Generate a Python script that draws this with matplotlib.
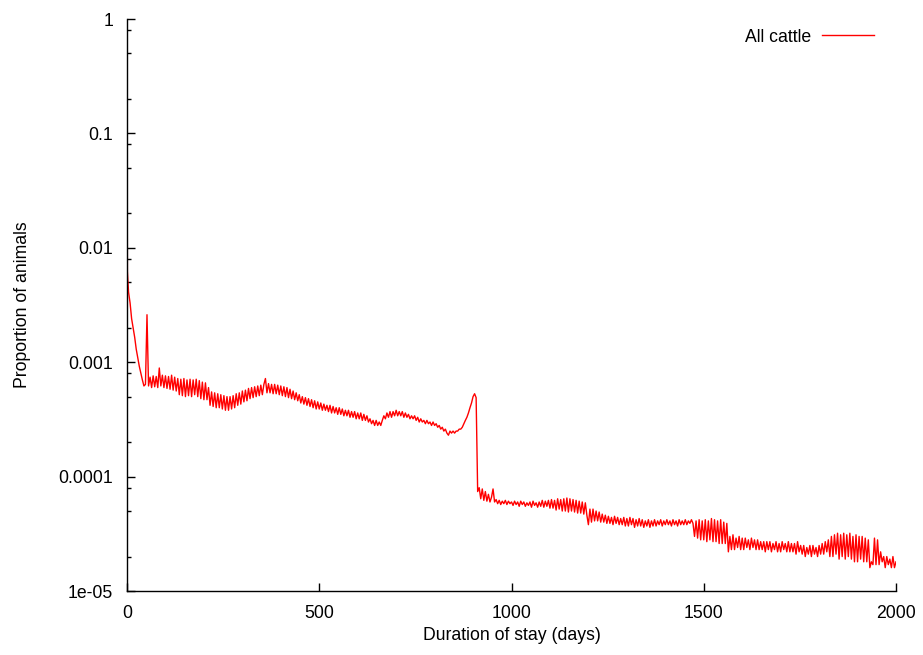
import numpy as np
import matplotlib
matplotlib.use("Agg")
from matplotlib import pyplot as plt
from matplotlib.ticker import FixedLocator, LogLocator, NullFormatter

# Proportion of animals by duration of stay.
# Values are in units of 1e-5 (i.e. per 100 000 animals).
start_days = [0, 1]
start_values = [35000, 620]

# regular 4-day grid from day 4 to day 2000 (one row = 100 days)
grid_days = list(range(4, 2001, 4))
grid_values = [
    410, 330, 240, 200, 165, 130, 110, 92, 80, 70, 62, 64, 260, 62, 74, 60, 76, 61, 75, 60, 89, 62, 77, 60, 76,
    59, 75, 58, 77, 57, 74, 56, 72, 52, 71, 51, 72, 50, 70, 51, 71, 50, 70, 52, 71, 50, 69, 48, 67, 47,
    66, 47, 60, 42, 55, 41, 54, 40, 53, 40, 52, 39, 51, 38, 50, 38, 50, 39, 51, 40, 53, 42, 54, 43, 56,
    45, 57, 46, 59, 48, 60, 49, 61, 50, 62, 51, 63, 52, 64, 72, 54, 65, 54, 64, 53, 64, 53, 63, 52, 62,
    51, 61, 50, 60, 49, 58, 48, 56, 47, 54, 46, 52, 44, 50, 43, 49, 42, 48, 41, 47, 40, 46, 39, 45, 39,
    44, 38, 43, 38, 42, 37, 42, 36, 41, 36, 40, 35, 40, 35, 39, 34, 38, 34, 38, 33, 37, 33, 37, 32, 36,
    32, 36, 31, 35, 31, 34, 30, 32, 29, 31, 28, 31, 28, 30, 28, 31, 34, 32, 36, 33, 37, 33, 37, 34, 38,
    34, 37, 34, 37, 33, 36, 33, 35, 32, 34, 32, 34, 31, 33, 30, 32, 30, 31, 29, 31, 29, 30, 28, 30, 28,
    29, 27, 28, 26, 27, 25, 26, 24, 23, 25, 24, 25, 24, 25, 25, 26, 26, 27, 29, 31, 33, 36, 40, 44, 50,
    53, 49, 7.4, 8.0, 6.4, 7.8, 6.2, 7.4, 6.1, 7.0, 6.0, 6.6, 7.8, 6.0, 6.3, 5.8, 6.2, 5.7, 6.1, 5.8, 6.2, 5.7, 6.1, 5.8, 6.0,
    5.6, 6.1, 5.7, 6.0, 5.5, 6.1, 5.7, 6.0, 5.5, 5.9, 5.6, 6.0, 5.4, 6.1, 5.6, 5.9, 5.4, 6.0, 5.5, 6.2, 5.4, 6.1, 5.5, 6.2, 5.3,
    6.3, 5.3, 6.2, 5.1, 6.4, 5.2, 6.3, 5.0, 6.4, 5.0, 6.5, 4.9, 6.4, 5.0, 6.3, 4.9, 6.2, 4.8, 6.1, 4.8, 6.0, 4.7, 5.9, 4.6, 3.8,
    5.2, 4.0, 5.2, 4.1, 5.0, 4.1, 4.9, 4.0, 4.7, 4.0, 4.6, 3.9, 4.5, 3.9, 4.4, 3.8, 4.5, 3.9, 4.4, 3.8, 4.3, 3.8, 4.4, 3.7, 4.3,
    3.7, 4.4, 3.8, 4.3, 3.6, 4.2, 3.7, 4.3, 3.7, 4.2, 3.6, 4.1, 3.7, 4.2, 3.6, 4.1, 3.7, 4.2, 3.7, 4.1, 3.8, 4.2, 3.7, 4.1, 3.8,
    4.2, 3.8, 4.1, 3.7, 4.2, 3.8, 4.1, 3.7, 4.2, 3.8, 4.1, 3.8, 4.2, 3.8, 4.1, 3.9, 4.2, 3.9, 3.0, 4.1, 2.9, 4.2, 2.8, 4.1, 2.8,
    4.2, 2.7, 4.1, 2.8, 4.3, 2.7, 4.2, 2.7, 4.1, 2.6, 4.2, 2.6, 4.0, 2.6, 3.9, 2.2, 3.0, 2.3, 3.1, 2.3, 2.9, 2.4, 3.0, 2.3, 2.9,
    2.3, 2.9, 2.4, 2.8, 2.3, 2.9, 2.4, 2.8, 2.3, 2.8, 2.3, 2.7, 2.3, 2.7, 2.2, 2.7, 2.3, 2.7, 2.2, 2.6, 2.3, 2.7, 2.2, 2.6, 2.2,
    2.7, 2.3, 2.6, 2.2, 2.7, 2.2, 2.6, 2.2, 2.6, 2.1, 2.7, 2.2, 2.5, 2.1, 2.5, 2.0, 2.4, 2.1, 2.5, 2.0, 2.5, 2.1, 2.4, 2.0, 2.5,
    2.1, 2.6, 2.1, 2.7, 2.2, 2.8, 2.0, 3.0, 2.0, 3.1, 2.1, 3.2, 1.9, 3.1, 2.0, 3.2, 1.9, 3.1, 2.0, 3.2, 1.9, 3.0, 1.8, 3.1, 1.8,
    3.0, 1.9, 3.0, 1.8, 2.9, 1.8, 2.8, 1.6, 1.8, 1.7, 2.9, 1.7, 2.8, 1.7, 2.2, 1.8, 2.0, 1.6, 2.0, 1.7, 1.9, 1.6, 2.0, 1.6, 1.8,
]

y_ticks = [1, 0.1, 0.01, 0.001, 0.0001, 1e-05]
y_tick_labels = ["1", "0.1", "0.01", "0.001", "0.0001", "1e-05"]
x_ticks = [0, 500, 1000, 1500, 2000]


def main():
    plt.rcParams["font.family"] = ["Liberation Sans", "DejaVu Sans"]
    fs = 12.7

    days = np.array(start_days + grid_days)
    proportion = np.array(start_values + grid_values) * 1e-5

    fig = plt.figure(figsize=(9.23, 6.55), dpi=100)
    ax = fig.add_axes([127 / 923, 1 - 591 / 655, (896 - 127) / 923, (591 - 19) / 655])

    ax.plot(days, proportion, color="red", linewidth=1.0, label="All cattle")

    ax.set_yscale("log")
    ax.set_xlim(0, 2000)
    ax.set_ylim(1e-05, 1)

    ax.yaxis.set_major_locator(FixedLocator(y_ticks))
    ax.set_yticklabels(y_tick_labels)
    ax.yaxis.set_minor_locator(LogLocator(base=10, subs=[2, 5, 8]))
    ax.yaxis.set_minor_formatter(NullFormatter())
    ax.set_xticks(x_ticks)
    ax.set_xticklabels([str(t) for t in x_ticks])

    # gnuplot style: only left and bottom border, ticks pointing inside
    ax.spines["top"].set_visible(False)
    ax.spines["right"].set_visible(False)
    ax.spines["left"].set_linewidth(1.0)
    ax.spines["bottom"].set_linewidth(1.0)
    ax.tick_params(which="major", direction="in", length=6, width=1.0, pad=10, labelsize=fs)
    ax.tick_params(which="minor", direction="in", length=3, width=1.0)

    ax.set_xlabel("Duration of stay (days)", fontsize=fs, labelpad=4)
    ax.set_ylabel("Proportion of animals", fontsize=fs, labelpad=20)

    ax.legend(loc="upper right", bbox_to_anchor=(0.9915, 1.011), frameon=False,
              markerfirst=False, handlelength=2.95, handletextpad=0.6, fontsize=fs)

    fig.savefig("out.png", dpi=100)


if __name__ == "__main__":
    main()
